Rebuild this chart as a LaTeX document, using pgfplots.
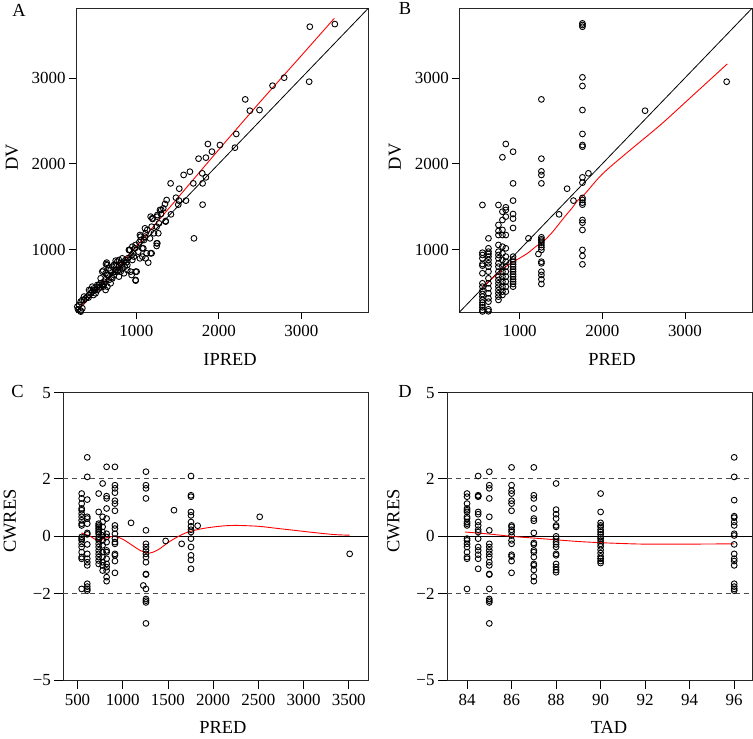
\documentclass[border=0pt]{standalone}
\usepackage{fontspec}
\setmainfont{Liberation Serif}
\usepackage{pgfplots}
\pgfplotsset{compat=1.18}
\pgfplotstableread{
x y
3103 3597
3406 3628
3095 2956
2792 3003
2651 2910
2320 2750
2376 2618
2493 2626
2211 2347
2195 2187
2013 2218
1867 2230
1916 2141
1843 2071
1754 2059
1843 1841
1799 1888
1803 1771
1803 1523
1698 1130
1690 1771
1649 1907
1573 1869
1520 1709
1415 1771
1480 1604
1516 1570
1508 1523
1601 1570
1419 1410
1367 1577
1347 1531
1326 1480
1286 1461
1298 1414
1355 1332
1253 1383
1197 1356
1185 1266
1246 1266
1266 1189
1104 1247
1165 1130
1246 1072
1246 1041
1185 956
1144 847
1124 956
1084 1014
1043 897
1092 1111
1035 1084
1051 1150
1003 742
991 637
942 703
914 995
963 956
1023 975
983 1014
1043 1169
1112 1189
1132 1228
1072 1014
1072 917
1112 897
1173 956
1100 1150
1213 1189
1254 1072
1052 1111
1173 1383
1302 1461
1193 1364
1254 1402
1274 1305
1355 1325
922 995
971 917
951 878
991 742
930 742
991 645
890 820
850 859
809 839
769 859
749 870
728 820
648 820
587 742
688 761
769 742
809 742
850 723
789 684
728 703
648 703
627 653
607 625
567 606
547 587
668 645
688 606
648 567
627 528
599 567
527 528
494 528
466 509
446 489
426 470
405 451
385 431
365 412
345 412
325 392
304 353
284 334
292 303
325 276
446 528
486 548
365 451
506 489
547 548
587 587
708 664
749 761
829 781
890 761
910 995
951 1033
991 1053
426 528
466 567
527 587
567 664
627 723
668 781
708 800
749 820
789 800
829 897
870 878
789 878
640 847
599 754
631 831
345 315
325 287
420 440
480 470
520 560
560 560
610 600
660 700
700 680
740 740
780 760
820 820
860 800
900 900
940 930
880 850
}\dataA
\pgfplotstableread{
x y
548 1519
548 963
548 936
548 897
548 831
548 812
548 723
548 606
548 567
548 520
548 482
548 451
548 412
548 381
548 354
548 326
548 295
548 278
621 1130
621 1014
621 975
621 948
621 917
621 878
621 839
621 800
621 742
621 664
621 606
621 548
621 489
621 431
621 392
621 303
621 280
742 1519
742 1286
742 1216
742 1169
742 1053
742 975
742 936
742 897
742 839
742 800
742 742
742 684
742 645
742 606
742 567
742 528
742 489
742 451
742 412
790 2075
790 1441
790 1344
790 1228
790 1169
790 1033
790 956
790 878
790 800
790 742
790 684
790 625
790 567
790 509
790 470
831 2230
831 1492
831 1461
831 1383
831 1169
831 1014
831 917
831 858
831 800
831 742
831 684
831 625
831 567
831 509
919 2140
919 1771
919 1570
919 1414
919 1360
919 1251
919 917
919 886
919 858
919 827
919 800
919 769
919 742
919 711
919 684
919 653
919 625
919 598
919 567
1105 1130
1226 948
1262 2750
1262 2059
1262 1911
1262 1869
1262 1771
1262 1142
1262 1119
1262 1103
1262 1080
1262 1053
1262 1026
1262 995
1262 858
1262 839
1262 742
1262 703
1262 653
1262 598
1476 1410
1573 1709
1650 1570
1759 3636
1759 3617
1759 3597
1759 3007
1759 2906
1759 2626
1759 2347
1759 2218
1759 2199
1759 1841
1759 1779
1759 1601
1759 1577
1759 1546
1759 1523
1759 1344
1759 1313
1759 1228
1759 995
1759 925
1759 827
1831 1888
2517 2618
3505 2956
}\dataB
\pgfplotstableread{
x y
546 1.49
546 1.32
546 1.14
546 0.97
546 0.91
546 0.79
546 0.68
546 0.56
546 0.44
546 0.38
546 -0.02
546 -0.08
546 -0.14
546 -0.26
546 -0.37
546 -0.55
546 -0.72
546 -0.78
546 -1.83
608 2.75
608 2.07
608 1.28
608 0.68
608 0.62
608 0.44
608 0.12
608 0.07
608 -0.28
608 -0.61
608 -0.78
608 -0.90
608 -1.01
608 -1.65
608 -1.75
608 -1.83
608 -1.89
734 1.49
734 0.85
734 0.44
734 0.38
734 0.33
734 0.27
734 0.21
734 0.15
734 0.09
734 -0.02
734 -0.08
734 -0.14
734 -0.26
734 -0.37
734 -0.49
734 -0.61
734 -0.72
734 -0.84
734 -0.96
778 1.84
778 0.68
778 0.50
778 0.33
778 0.15
778 0.03
778 -0.14
778 -0.31
778 -0.55
778 -0.72
778 -0.90
778 -1.01
778 -1.19
822 2.42
822 1.40
822 1.32
822 0.97
822 0.62
822 0.09
822 -0.02
822 -0.20
822 -0.49
822 -0.55
822 -0.78
822 -0.96
822 -1.07
822 -1.19
822 -1.42
822 -1.56
914 2.42
914 1.78
914 1.67
914 1.52
914 1.24
914 1.14
914 0.89
914 0.38
914 0.27
914 0.09
914 -0.08
914 -0.20
914 -0.26
914 -0.61
914 -0.66
914 -0.86
914 -1.27
1092 0.47
1228 -1.71
1257 2.25
1257 1.78
1257 1.67
1257 1.32
1257 0.21
1257 -0.26
1257 -0.37
1257 -0.49
1257 -0.61
1257 -0.72
1257 -0.90
1257 -1.31
1257 -1.33
1257 -1.83
1257 -2.18
1257 -2.24
1257 -2.30
1257 -3.03
1475 -0.16
1567 0.91
1652 -0.26
1755 2.10
1755 1.43
1755 1.38
1755 0.85
1755 0.73
1755 0.50
1755 0.35
1755 0.23
1755 0.15
1755 -0.08
1755 -0.37
1755 -0.66
1755 -0.82
1755 -1.13
1829 0.37
2515 0.68
3510 -0.61
}\dataC
\pgfplotstableread{
x y
84 1.49
84 1.38
84 1.14
84 0.97
84 0.91
84 0.85
84 0.68
84 0.62
84 0.50
84 0.44
84 0.38
84 -0.08
84 -0.14
84 -0.26
84 -0.37
84 -0.55
84 -0.72
84 -0.78
84 -1.83
84.5 2.10
84.5 1.43
84.5 1.40
84.5 1.38
84.5 0.85
84.5 0.77
84.5 0.50
84.5 0.38
84.5 0.23
84.5 0.15
84.5 -0.08
84.5 -0.37
84.5 -0.49
84.5 -0.64
84.5 -0.78
84.5 -1.13
85 2.25
85 1.78
85 1.67
85 1.32
85 0.68
85 0.21
85 -0.26
85 -0.37
85 -0.49
85 -0.61
85 -0.72
85 -0.90
85 -1.01
85 -1.31
85 -1.33
85 -1.83
85 -2.18
85 -2.24
85 -2.30
85 -3.03
86 2.40
86 1.78
86 1.59
86 1.49
86 1.24
86 1.14
86 0.89
86 0.38
86 0.33
86 0.23
86 0.15
86 0.03
86 -0.14
86 -0.26
86 -0.64
86 -0.70
86 -0.86
86 -1.27
87 2.40
87 1.43
87 1.32
87 0.97
87 0.62
87 0.54
87 0.12
87 -0.23
87 -0.28
87 -0.49
87 -0.55
87 -0.72
87 -0.96
87 -1.01
87 -1.17
87 -1.40
87 -1.56
88 1.84
88 0.93
88 0.77
88 0.62
88 0.38
88 0.33
88 0.00
88 -0.08
88 -0.20
88 -0.28
88 -0.37
88 -0.61
88 -0.66
88 -0.96
88 -1.07
88 -1.17
88 -1.25
90 1.49
90 0.85
90 0.47
90 0.38
90 0.33
90 0.23
90 0.15
90 0.07
90 -0.02
90 -0.08
90 -0.16
90 -0.26
90 -0.35
90 -0.47
90 -0.58
90 -0.70
90 -0.78
90 -0.86
90 -0.93
96 2.75
96 2.07
96 1.26
96 0.70
96 0.65
96 0.50
96 0.38
96 0.09
96 0.03
96 -0.28
96 -0.61
96 -0.78
96 -0.86
96 -1.01
96 -1.65
96 -1.75
96 -1.83
96 -1.89
}\dataD
\pgfplotsset{
  panel/.style={
    scale only axis, anchor=south west,
    axis line style={line width=0.8bp, black!85},
    tick style={line width=0.8bp, black},
    tick align=outside, major tick length=7bp, tick pos=left,
    /pgf/number format/assume math mode=true,
    /pgf/number format/1000 sep={},
    scaled ticks=false,
    tick label style={font=\fontsize{17}{20}\selectfont},
    xticklabel style={yshift=-2bp},
  },
  pts/.style={only marks, mark=o, mark size=2.9bp, mark options={line width=0.9bp, black}},
  redl/.style={red, line width=0.9bp, no marks, smooth},
}
\begin{document}
\begin{tikzpicture}
\useasboundingbox (0,0) rectangle (753bp,739bp);
% Panel A
\begin{axis}[panel, at={(76bp,426.7bp)}, width=292.3bp, height=304bp,
  xmin=268, xmax=3812, ymin=268, ymax=3812,
  xtick={1000,2000,3000}, ytick={1000,2000,3000}]
\addplot[pts] table {\dataA};
\addplot[black, line width=0.8bp, no marks] coordinates {(268,268) (3812,3812)};
\addplot[redl] coordinates {(285,290) (500,505) (750,765) (1000,1035) (1500,1600) (2000,2165) (2500,2720) (3000,3260) (3400,3695)};
\end{axis}
% Panel B
\begin{axis}[panel, at={(459.3bp,426.7bp)}, width=292.7bp, height=304bp,
  xmin=268, xmax=3812, ymin=268, ymax=3812,
  xtick={1000,2000,3000}, ytick={1000,2000,3000}]
\addplot[pts] table {\dataB};
\addplot[black, line width=0.8bp, no marks] coordinates {(268,268) (3812,3812)};
\addplot[redl] coordinates {(552,567) (640,640) (738,723) (830,800) (919,855) (1000,900) (1100,960) (1202,1040) (1283,1092) (1383,1189) (1460,1280) (1545,1383) (1630,1480) (1706,1577) (1787,1647) (2000,1880) (2300,2130) (2700,2450) (3100,2800) (3513,3164)};
\end{axis}
% Panel C
\begin{axis}[panel, at={(63.3bp,59bp)}, width=305bp, height=287.3bp,
  major tick length=9bp,
  xmin=343, xmax=3716, ymin=-5, ymax=5,
  xtick={500,1000,1500,2000,2500,3000,3500},
  ytick={-5,-2,0,2,5}, yticklabels={−5,−2,0,2,5}]
\addplot[pts] table {\dataC};
\addplot[black, line width=0.8bp, no marks] coordinates {(343,0) (3716,0)};
\addplot[black!70, line width=0.8bp, dash pattern=on 5bp off 4bp, no marks] coordinates {(343,2) (3716,2)};
\addplot[black!70, line width=0.8bp, dash pattern=on 5bp off 4bp, no marks] coordinates {(343,-2) (3716,-2)};
\addplot[redl] coordinates {(546,0.12) (640,0.0) (727,-0.14) (820,-0.05) (912,0.0) (1000,-0.1) (1100,-0.3) (1200,-0.5) (1300,-0.58) (1400,-0.45) (1500,-0.22) (1600,-0.03) (1722,0.15) (1900,0.28) (2100,0.36) (2261,0.38) (2500,0.35) (2700,0.28) (2925,0.2) (3150,0.12) (3350,0.06) (3510,0.04)};
\end{axis}
% Panel D
\begin{axis}[panel, at={(447bp,59bp)}, width=305bp, height=287.3bp,
  major tick length=9bp,
  xmin=83.1, xmax=96.8, ymin=-5, ymax=5,
  xtick={84,86,88,90,92,94,96},
  ytick={-5,-2,0,2,5}, yticklabels={−5,−2,0,2,5}]
\addplot[pts] table {\dataD};
\addplot[black, line width=0.8bp, no marks] coordinates {(83.1,0) (96.8,0)};
\addplot[black!70, line width=0.8bp, dash pattern=on 5bp off 4bp, no marks] coordinates {(83.1,2) (96.8,2)};
\addplot[black!70, line width=0.8bp, dash pattern=on 5bp off 4bp, no marks] coordinates {(83.1,-2) (96.8,-2)};
\addplot[redl] coordinates {(83.92,0.15) (85,0.08) (86,0.0) (87,-0.06) (88,-0.12) (89,-0.18) (90,-0.22) (91,-0.25) (92,-0.27) (94,-0.27) (96,-0.26)};
\end{axis}
% Labels
\begin{scope}[every node/.style={font=\fontsize{18.5}{22}\selectfont, inner sep=0pt}]
\node at (19bp,729bp) {A};
\node at (405bp,730bp) {B};
\node at (17.5bp,348bp) {C};
\node at (405bp,348bp) {D};
\node[rotate=90] at (12bp,581.5bp) {DV};
\node[rotate=90] at (395bp,582bp) {DV};
\node at (230bp,380bp) {IPRED};
\node at (612bp,380bp) {PRED};
\node[rotate=90] at (10bp,218bp) {CWRES};
\node[rotate=90] at (393.5bp,218bp) {CWRES};
\node at (223bp,12bp) {PRED};
\node at (609bp,12bp) {TAD};
\end{scope}
\end{tikzpicture}
\end{document}
